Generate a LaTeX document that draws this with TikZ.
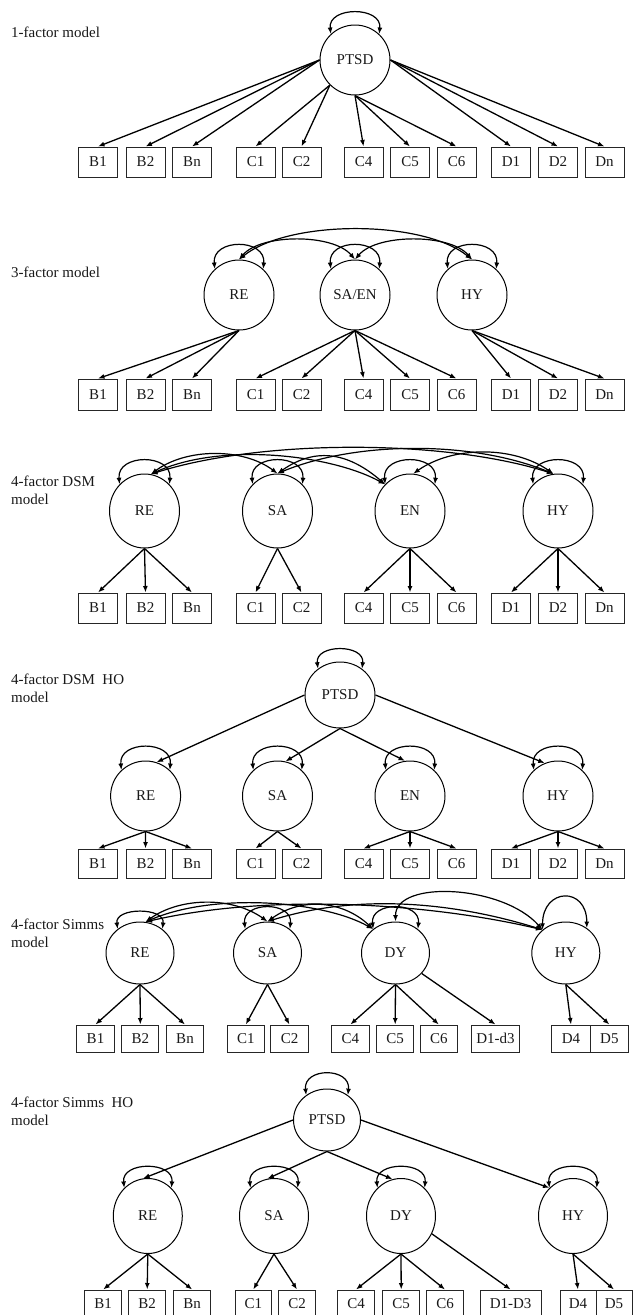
\documentclass[tikz,border=0pt]{standalone}
\usepackage{fontspec}
\setmainfont{Liberation Serif}
\usetikzlibrary{shapes.geometric,arrows.meta}
\begin{document}
\begin{tikzpicture}[x=1pt,y=-1pt,
  >={Latex[length=6.5pt,width=5pt]},
  every node/.style={font=\fontsize{15}{17.5}\selectfont, text=black!90},
  lat/.style 2 args={draw, ellipse, inner sep=0pt, line width=1pt,
    minimum width=#1, minimum height=#2},
  obs/.style 2 args={draw=black!85, rectangle, inner sep=0pt, line width=1pt,
    minimum width=#1, minimum height=#2},
  ttl/.style={anchor=north west, align=left, inner sep=0pt},
  ld/.style={->, line width=1.3pt},
  cv/.style={<->, line width=1.2pt}]
\useasboundingbox (0,0) rectangle (635,1315);
\fill[white] (0,0) rectangle (635,1315);
\clip (0,0) rectangle (635,1315);
\def\stdrow{B1/98,B2/145.5,Bn/192,C1/255.5,C2/301.5,C4/363.5,C5/410,C6/456.5,D1/511,D2/558,Dn/604.5}

% ---------- 1-factor model ----------
\node[ttl] (t1) at (11,27) {1-factor model};
\node[lat={70}{70}] (aP) at (355,60) {PTSD};
\foreach \n/\x in \stdrow \node[obs={39}{30}] (a\n) at (\x,162) {\n};
\foreach \n in {B1,B2,Bn} \draw[ld] (aP.180) -- (a\n.north);
\foreach \n in {C1,C2} \draw[ld] (aP.225) -- (a\n.north);
\foreach \n in {C4,C5,C6} \draw[ld] (aP.270) -- (a\n.north);
\foreach \n in {D1,D2,Dn} \draw[ld] (aP.0) -- (a\n.north);
\draw[cv] (aP.133) .. controls +(-3,-28) and +(3,-28) .. (aP.47);

% ---------- 3-factor model ----------
\node[ttl] (t2) at (11,267) {3-factor model};
\node[lat={70}{70}] (bRE) at (239,295) {RE};
\node[lat={70}{70}] (bS) at (355,295) {SA/EN};
\node[lat={70}{70}] (bHY) at (472,295) {HY};
\foreach \n/\x in \stdrow \node[obs={39}{31}] (b\n) at (\x,394.5) {\n};
\foreach \n in {B1,B2,Bn} \draw[ld] (bRE.south) -- (b\n.north);
\foreach \n in {C1,C2,C4,C5,C6} \draw[ld] (bS.south) -- (b\n.north);
\foreach \n in {D1,D2,Dn} \draw[ld] (bHY.south) -- (b\n.north);
\foreach \f in {bRE,bS,bHY}
  \draw[cv] (\f.133) .. controls +(-3,-31) and +(3,-31) .. (\f.47);
\draw[cv] (bRE.north) .. controls +(22,-26) and +(-22,-26) .. (bS.north);
\draw[cv] (bS.north) .. controls +(22,-26) and +(-22,-26) .. (bHY.north);
\draw[cv] (bRE.north) .. controls +(50,-40) and +(-50,-40) .. (bHY.north);

% ---------- 4-factor DSM model ----------
\node[ttl] (t3) at (11,476) {4-factor DSM\\model};
\node[lat={70}{74}] (cRE) at (144.5,511) {RE};
\node[lat={70}{74}] (cSA) at (277.5,511) {SA};
\node[lat={70}{74}] (cEN) at (410,511) {EN};
\node[lat={70}{74}] (cHY) at (558,511) {HY};
\foreach \n/\x in \stdrow \node[obs={39}{30}] (c\n) at (\x,608) {\n};
\foreach \n in {B1,B2,Bn} \draw[ld] (cRE.south) -- (c\n.north);
\foreach \n in {C1,C2} \draw[ld] (cSA.south) -- (c\n.north);
\foreach \n in {C4,C5,C6} \draw[ld] (cEN.south) -- (c\n.north);
\foreach \n in {D1,D2,Dn} \draw[ld] (cHY.south) -- (c\n.north);
\foreach \f in {cRE,cSA,cEN,cHY}
  \draw[cv] (\f.133) .. controls +(-3,-31) and +(3,-31) .. (\f.47);
\draw[cv] (cRE.80) .. controls +(35,-26) and +(-35,-26) .. (cSA.north);
\draw[cv] (cRE.80) .. controls +(70,-32) and +(-55,-30) .. (cEN.133);
\draw[cv] (cRE.80) .. controls +(110,-35) and +(-110,-35) .. (cHY.97);
\draw[cv] (cSA.north) .. controls +(40,-28) and +(-35,-30) .. (cEN.133);
\draw[cv] (cSA.north) .. controls +(80,-33) and +(-80,-33) .. (cHY.97);
\draw[cv] (cEN.85) .. controls +(40,-28) and +(-40,-28) .. (cHY.97);

% ---------- 4-factor DSM HO model ----------
\node[ttl] (t4) at (11,674) {4-factor DSM~\ HO\\model};
\node[lat={70}{66}] (dP) at (340,695) {PTSD};
\node[lat={70}{70}] (dRE) at (145.6,796) {RE};
\node[lat={70}{70}] (dSA) at (277.5,796) {SA};
\node[lat={70}{70}] (dEN) at (410,796) {EN};
\node[lat={70}{70}] (dHY) at (558,796) {HY};
\foreach \n/\x in \stdrow \node[obs={39}{29}] (d\n) at (\x,863.5) {\n};
\draw[cv] (dP.130) .. controls +(-3,-25) and +(3,-25) .. (dP.50);
\foreach \f in {dRE,dSA,dEN,dHY}
  \draw[cv] (\f.133) .. controls +(-3,-30) and +(3,-30) .. (\f.47);
\draw[ld] (dP.west) -- (dRE.72);
\draw[ld] (dP.south) -- (dSA.77);
\draw[ld] (dP.south) -- (dEN.98);
\draw[ld] (dP.east) -- (dHY.112);
\foreach \n in {B1,B2,Bn} \draw[ld] (dRE.south) -- (d\n.north);
\foreach \n in {C1,C2} \draw[ld] (dSA.south) -- (d\n.north);
\foreach \n in {C4,C5,C6} \draw[ld] (dEN.south) -- (d\n.north);
\foreach \n in {D1,D2,Dn} \draw[ld] (dHY.south) -- (d\n.north);

% ---------- 4-factor Simms model ----------
\node[ttl] (t5) at (11,919) {4-factor Simms\\model};
\node[lat={68}{62}] (eRE) at (140,953) {RE};
\node[lat={68}{62}] (eSA) at (267.5,953) {SA};
\node[lat={68}{62}] (eDY) at (395.5,953) {DY};
\node[lat={68}{62}] (eHY) at (565.8,953) {HY};
\foreach \n/\x in {B1/95.5,B2/140.3,Bn/185,C1/245.8,C2/289.5,C4/350.4,C5/395.2,C6/438.8}
  \node[obs={37.3}{27}] (e\n) at (\x,1038.5) {\n};
\node[obs={48}{27}] (eD13) at (495.5,1038.5) {D1-d3};
\node[obs={38.4}{27}] (eD4) at (571,1038.5) {D4};
\node[obs={38}{27}] (eD5) at (609.4,1038.5) {D5};
\foreach \n in {B1,B2,Bn} \draw[ld] (eRE.south) -- (e\n.north);
\foreach \n in {C1,C2} \draw[ld] (eSA.south) -- (e\n.north);
\foreach \n in {C4,C5,C6} \draw[ld] (eDY.south) -- (e\n.north);
\draw[ld] (eDY.-38) -- (eD13.north);
\foreach \n in {D4,D5} \draw[ld] (eHY.south) -- (e\n.north);
\draw[cv] (eRE.133) .. controls +(-3,-22) and +(3,-22) .. (eRE.47);
\draw[cv] (eSA.133) .. controls +(-3,-28) and +(3,-28) .. (eSA.47);
\draw[cv] (eDY.133) .. controls +(-3,-28) and +(3,-28) .. (eDY.47);
\draw[cv] (eHY.135) .. controls +(0,-42) and +(0,-42) .. (eHY.50);
\draw[cv] (eRE.80) .. controls +(35,-25) and +(-35,-25) .. (eSA.north);
\draw[cv] (eRE.80) .. controls +(70,-30) and +(-50,-28) .. (eDY.133);
\draw[cv] (eRE.80) .. controls +(120,-28) and +(-120,-28) .. (eHY.135);
\draw[cv] (eSA.north) .. controls +(35,-25) and +(-30,-28) .. (eDY.133);
\draw[cv] (eSA.north) .. controls +(90,-28) and +(-90,-28) .. (eHY.135);
\draw[cv] (eDY.north) .. controls +(0,-42) and +(-40,-45) .. (eHY.135);

% ---------- 4-factor Simms HO model ----------
\node[ttl] (t6) at (11,1097) {4-factor Simms~\ HO\\model};
\node[lat={67}{62}] (fP) at (327,1120) {PTSD};
\node[lat={69}{75}] (fRE) at (147.8,1216) {RE};
\node[lat={69}{75}] (fSA) at (274,1216) {SA};
\node[lat={69}{75}] (fDY) at (401,1216) {DY};
\node[lat={69}{75}] (fHY) at (573,1216) {HY};
\foreach \n/\x in {B1/103.2,B2/147.2,Bn/192.2,C1/253.3,C2/297,C4/356,C5/401.2,C6/445}
  \node[obs={36.5}{28}] (f\n) at (\x,1304) {\n};
\node[obs={60.8}{28}] (fD13) at (510.6,1304) {D1-D3};
\node[obs={36}{28}] (fD4) at (578,1304) {D4};
\node[obs={36}{28}] (fD5) at (614,1304) {D5};
\draw[cv] (fP.130) .. controls +(-3,-28) and +(3,-28) .. (fP.50);
\foreach \f in {fRE,fSA,fDY,fHY}
  \draw[cv] (\f.130) .. controls +(-3,-27) and +(3,-27) .. (\f.50);
\draw[ld] (fP.west) -- (fRE.97);
\draw[ld] (fP.south) -- (fSA.100);
\draw[ld] (fP.south) -- (fDY.103);
\draw[ld] (fP.east) -- (fHY.130);
\foreach \n in {B1,B2,Bn} \draw[ld] (fRE.south) -- (f\n.north);
\foreach \n in {C1,C2} \draw[ld] (fSA.south) -- (f\n.north);
\foreach \n in {C4,C5,C6} \draw[ld] (fDY.south) -- (f\n.north);
\draw[ld] (fDY.-30) -- (fD13.north);
\foreach \n in {D4,D5} \draw[ld] (fHY.south) -- (f\n.north);
\end{tikzpicture}
\end{document}
